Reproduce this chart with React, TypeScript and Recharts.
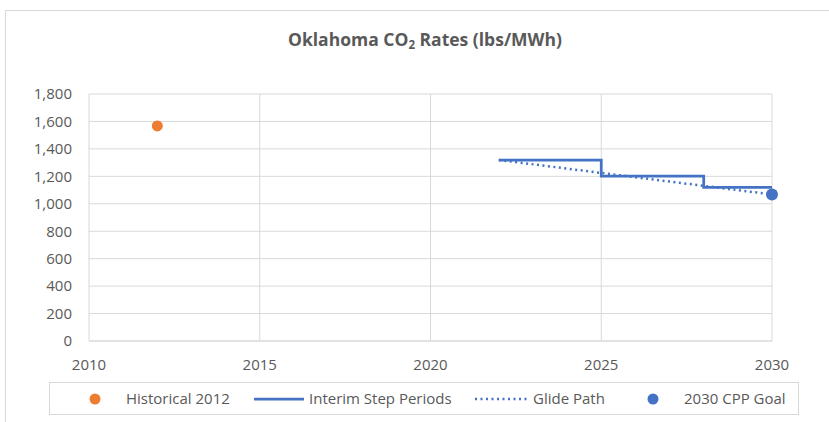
import { ComposedChart, Line, Scatter, XAxis, YAxis, CartesianGrid } from "recharts";

const FONT = "'Open Sans', 'Noto Sans', sans-serif";
const TEXT_COLOR = "#595959";
const GRID_COLOR = "#d9d9d9";
const ORANGE = "#ED7D31";
const BLUE = "#4472C4";

const xTicks = [2010, 2015, 2020, 2025, 2030];
const yTicks = [0, 200, 400, 600, 800, 1000, 1200, 1400, 1600, 1800];

// lbs/MWh
const historical = [{ year: 2012, rate: 1567 }];
const stepPeriods = [
  { year: 2022, rate: 1319 },
  { year: 2025, rate: 1202 },
  { year: 2028, rate: 1119 },
  { year: 2030, rate: 1119 },
];
const glidePath = [
  { year: 2022, rate: 1319 },
  { year: 2030, rate: 1068 },
];
const goal = [{ year: 2030, rate: 1068 }];

const legendItems = [
  { label: "Historical 2012", kind: "dot", color: ORANGE },
  { label: "Interim Step Periods", kind: "line", color: BLUE },
  { label: "Glide Path", kind: "dotted", color: BLUE },
  { label: "2030 CPP Goal", kind: "dot", color: BLUE },
];

function LegendBox() {
  // centre of each marker / left of each label, inside the legend box
  const markerX = [45, 229, 451, 603];
  const labelX = [76, 259, 483, 634];
  return (
    <div
      style={{
        position: "absolute",
        left: 49,
        top: 382,
        width: 750,
        height: 33,
        border: `1px solid ${GRID_COLOR}`,
        boxSizing: "border-box",
        fontSize: 15,
        color: TEXT_COLOR,
      }}
    >
      {legendItems.map((item, i) => (
        <div key={item.label}>
          <svg
            style={{ position: "absolute", left: markerX[i] - 26, top: 0 }}
            width={52}
            height={32}
          >
            {item.kind === "dot" && <circle cx={26} cy={16} r={5.5} fill={item.color} />}
            {item.kind === "line" && (
              <line x1={1} x2={51} y1={16} y2={16} stroke={item.color} strokeWidth={2.75} />
            )}
            {item.kind === "dotted" && (
              <line
                x1={0}
                x2={52}
                y1={16}
                y2={16}
                stroke={item.color}
                strokeWidth={2.5}
                strokeDasharray="2 3.5"
              />
            )}
          </svg>
          <span style={{ position: "absolute", left: labelX[i], top: 5, whiteSpace: "nowrap" }}>
            {item.label}
          </span>
        </div>
      ))}
    </div>
  );
}

export default function App() {
  return (
    <div
      style={{
        position: "absolute",
        left: 0,
        top: 0,
        width: 829,
        height: 422,
        overflow: "hidden",
        background: "#fff",
        fontFamily: FONT,
      }}
    >
      <div
        style={{
          position: "absolute",
          left: 5,
          top: 10,
          width: 900,
          height: 440,
          border: `1px solid ${GRID_COLOR}`,
        }}
      />
      <div
        style={{
          position: "absolute",
          left: 5,
          width: 840,
          top: 27,
          textAlign: "center",
          fontSize: 17.5,
          fontWeight: 700,
          color: TEXT_COLOR,
        }}
      >
        Oklahoma CO<sub style={{ fontSize: 11.5, verticalAlign: "-3px" }}>2</sub> Rates (lbs/MWh)
      </div>
      <div style={{ position: "absolute", left: 0, top: 0 }}>
        <ComposedChart
          width={829}
          height={422}
          margin={{ top: 94, right: 57, left: 29, bottom: 51 }}
        >
          <CartesianGrid stroke={GRID_COLOR} strokeWidth={1} />
          <XAxis
            dataKey="year"
            type="number"
            domain={[2010, 2030]}
            ticks={xTicks}
            height={30}
            tickLine={false}
            axisLine={{ stroke: GRID_COLOR }}
            tick={{ fill: TEXT_COLOR, fontSize: 15 }}
            tickMargin={12}
            interval={0}
          />
          <YAxis
            type="number"
            domain={[0, 1800]}
            ticks={yTicks}
            width={60}
            tickLine={false}
            axisLine={false}
            tick={{ fill: TEXT_COLOR, fontSize: 15 }}
            tickMargin={11}
            tickFormatter={(v: number) => v.toLocaleString("en-US")}
            interval={0}
          />
          <Line
            data={glidePath}
            dataKey="rate"
            type="linear"
            stroke={BLUE}
            strokeWidth={2.5}
            strokeDasharray="2 3.5"
            dot={false}
            activeDot={false}
            isAnimationActive={false}
          />
          <Line
            data={stepPeriods}
            dataKey="rate"
            type="stepAfter"
            stroke={BLUE}
            strokeWidth={2.75}
            dot={false}
            activeDot={false}
            isAnimationActive={false}
          />
          <Scatter
            data={historical}
            dataKey="rate"
            fill={ORANGE}
            isAnimationActive={false}
            shape={(p: any) => <circle cx={p.cx} cy={p.cy} r={5.5} fill={ORANGE} />}
          />
          <Scatter
            data={goal}
            dataKey="rate"
            fill={BLUE}
            isAnimationActive={false}
            shape={(p: any) => <circle cx={p.cx} cy={p.cy} r={6} fill={BLUE} />}
          />
        </ComposedChart>
      </div>
      <LegendBox />
    </div>
  );
}
